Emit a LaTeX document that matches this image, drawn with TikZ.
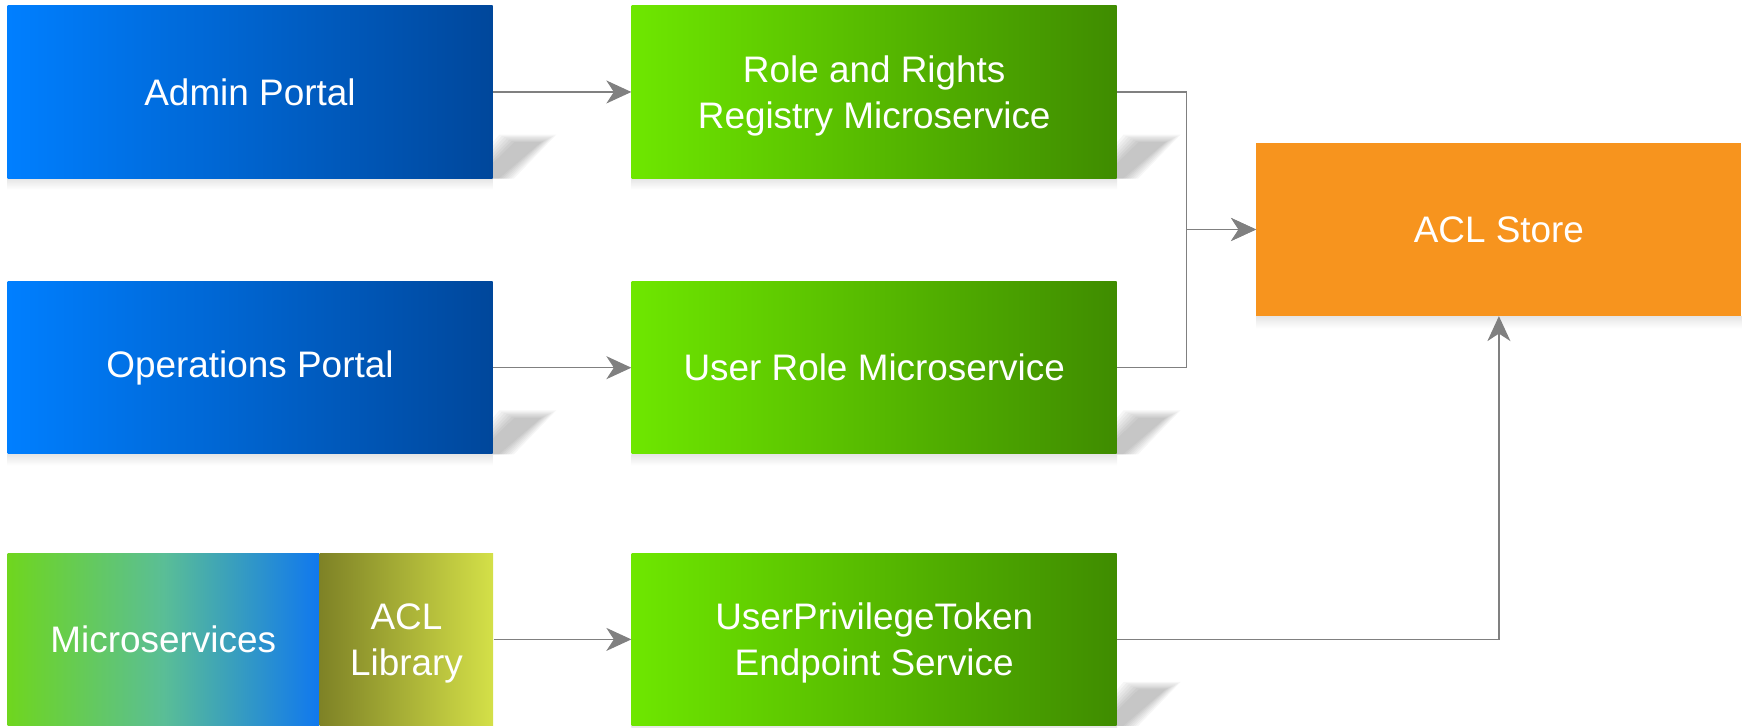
\documentclass[tikz,border=0pt]{standalone}
\usepackage{fontspec}
\setmainfont{Liberation Sans}
\usetikzlibrary{arrows.meta,positioning,backgrounds}
\definecolor{bluL}{HTML}{007FFF}
\definecolor{bluR}{HTML}{00479B}
\definecolor{grnL}{HTML}{6EE700}
\definecolor{grnR}{HTML}{3F8C00}
\definecolor{msL}{HTML}{6FD61E}
\definecolor{msM}{HTML}{5ABE96}
\definecolor{msR}{HTML}{1078EE}
\definecolor{libL}{HTML}{7E8226}
\definecolor{libR}{HTML}{D4E048}
\definecolor{orng}{HTML}{F7941E}
\definecolor{lgray}{HTML}{808080}

\begin{document}
\begin{tikzpicture}[node distance=2.77cm]

\tikzstyle{bx} = [rectangle, minimum height=3.45cm, minimum width=9.7cm, inner sep=0pt, text centered, align=center, text=white, font=\fontsize{21}{26}\selectfont]
\tikzstyle{blu} = [bx, left color=bluL, right color=bluR]
\tikzstyle{grn} = [bx, left color=grnL, right color=grnR]
\tikzstyle{two} = [text depth=0pt]
\tikzstyle{ln} = [draw=lgray, line width=0.85pt, -{Stealth[length=0.5cm, width=0.46cm, inset=0.15cm]}]
\useasboundingbox (0,0) rectangle (34.86,14.56);

\node (admin) [blu] at (5.0,12.72) {Admin Portal};
\node (rrr) [grn, two, right=of admin] {Role and Rights\\Registry Microservice};
\node (ops) [blu, below=2.05cm of admin] {Operations Portal};
\node (urm) [grn, right=of ops] {User Role Microservice};
\node (upt) [grn, two, below=1.97cm of urm] {UserPrivilegeToken\\Endpoint Service};
\node (micro) [bx, minimum width=6.23cm, left color=msL, right color=msR, middle color=msM, below=1.97cm of ops.south west, anchor=north west] {Microservices};
\node (lib) [bx, two, minimum width=3.47cm, left color=libL, right color=libR, right=0cm of micro] {ACL\\Library};
\node (store) [bx, fill=orng, right=2.78cm of rrr, yshift=-2.75cm] {ACL Store};

% shadows
\begin{scope}[on background layer]
\foreach \n in {admin,ops,rrr,urm,upt}{
  \foreach \w in {0.32,0.27,...,0}
    \fill[black, opacity=0.035] ([shift={({-0.3-\w},0)}]\n.south east) -- ([shift={({0.1+\w},0)}]\n.south east)
      -- ([shift={({0.95+\w},{0.72+0.5*\w})}]\n.south east) -- ([shift={({0.45-\w},{0.72+0.5*\w})}]\n.south east) -- cycle;
  \shade[top color=black!10, bottom color=white] (\n.south west) rectangle ([yshift=-0.22cm]\n.south east);
}
\shade[top color=black!10, bottom color=white] (store.south west) rectangle ([yshift=-0.25cm]store.south east);
\end{scope}

\draw [ln] (admin) -- (rrr);
\draw [ln] (ops) -- (urm);
\draw [ln] (lib) -- (upt);
\draw [ln] (rrr.east) -- ++(1.39,0) |- (store.west);
\draw [ln] (urm.east) -- ++(1.39,0) |- (store.west);
\draw [ln] (upt.east) -| (store.south);
\end{tikzpicture}
\end{document}
